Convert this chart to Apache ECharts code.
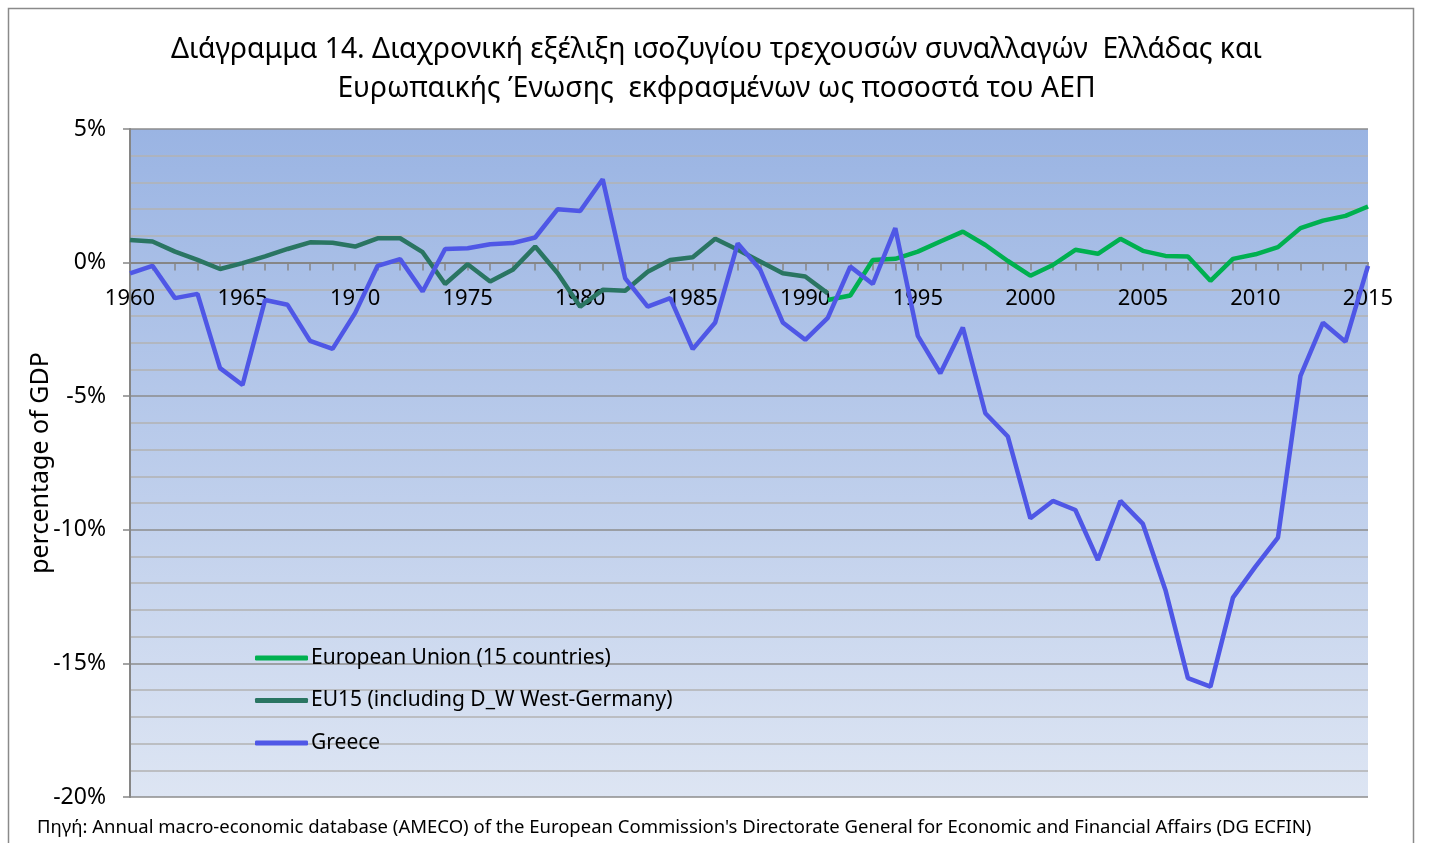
<!DOCTYPE html>
<html>
<head>
<meta charset="utf-8">
<script src="https://cdn.jsdelivr.net/npm/echarts@6/dist/echarts.min.js"></script>
<style>
html,body{margin:0;padding:0;background:#fff;}
#chart{width:1433px;height:843px;}
</style>
</head>
<body>
<div id="chart"></div>
<script>
var years = [];
for (var y = 1960; y <= 2015; y++) years.push(String(y));

// EU (15 countries), 1991-2015
var euStartYear = 1991;
var euValues = [-1.40, -1.23, 0.10, 0.14, 0.41, 0.79, 1.16, 0.66, 0.06, -0.49,
  -0.09, 0.48, 0.33, 0.89, 0.44, 0.25, 0.23, -0.68, 0.14, 0.31,
  0.58, 1.29, 1.57, 1.75, 2.10];

// EU15 incl. West Germany, 1960-1991
var eu15wStartYear = 1960;
var eu15wValues = [0.85, 0.79, 0.41, 0.10, -0.24, -0.02, 0.23, 0.51, 0.76, 0.74,
  0.60, 0.91, 0.91, 0.39, -0.80, -0.06, -0.71, -0.27, 0.60, -0.40,
  -1.65, -1.02, -1.05, -0.34, 0.10, 0.20, 0.89, 0.48, 0.04, -0.40,
  -0.52, -1.15];

// Greece, 1960-2015
var greeceValues = [-0.40, -0.12, -1.33, -1.17, -3.95, -4.58, -1.40, -1.58, -2.93, -3.23,
  -1.89, -0.12, 0.13, -1.08, 0.51, 0.54, 0.69, 0.73, 0.94, 2.00,
  1.93, 3.12, -0.59, -1.65, -1.33, -3.24, -2.24, 0.72, -0.27, -2.24,
  -2.89, -2.07, -0.15, -0.80, 1.29, -2.74, -4.14, -2.43, -5.64, -6.51,
  -9.57, -8.92, -9.26, -11.13, -8.92, -9.78, -12.25, -15.55, -15.87, -12.54,
  -11.38, -10.29, -4.24, -2.25, -2.96, -0.12];

var yMin = -20, yMax = 5, yStep = 5;

var seriesNames = ['European Union (15 countries)', 'EU15 (including D_W West-Germany)', 'Greece'];
var titleText = 'Διάγραμμα 14. Διαχρονική εξέλιξη ισοζυγίου τρεχουσών συναλλαγών  Ελλάδας και\nΕυρωπαικής Ένωσης  εκφρασμένων ως ποσοστά του ΑΕΠ';
var yAxisName = 'percentage of GDP';
var sourceText = 'Πηγή: Annual macro-economic database (AMECO) of the European Commission\'s Directorate General for Economic and Financial Affairs (DG ECFIN)';

function toPairs(startYear, vals) {
  return vals.map(function (v, i) { return [String(startYear + i), v]; });
}

var FONT = 'Noto Sans';
var gridTop = 129, gridBottom = 46, chartH = 843;
var plotH = chartH - gridTop - gridBottom;
// move the category axis up so it sits on the zero line
var zeroOffset = -plotH * (0 - yMin) / (yMax - yMin);

var chart = echarts.init(document.getElementById('chart'));
chart.setOption({
  backgroundColor: '#ffffff',
  animation: false,
  textStyle: { fontFamily: FONT },
  title: {
    text: titleText,
    left: 'center',
    top: 25,
    textStyle: { fontFamily: FONT, fontSize: 28.3, fontWeight: 'normal', color: '#000', lineHeight: 39 }
  },
  graphic: [
    { type: 'rect', z: -10, shape: { x: 8.5, y: 8.5, width: 1405, height: 850 },
      style: { fill: 'none', stroke: '#8a8a8a', lineWidth: 1.5 } },
    { type: 'text', left: 37, top: 818,
      style: { text: sourceText, fontFamily: FONT, fontSize: 18.5, fill: '#000' } }
  ],
  legend: {
    orient: 'vertical',
    left: 250,
    top: 641,
    icon: 'roundRect',
    itemWidth: 53,
    itemHeight: 5,
    itemGap: 18.5,
    data: seriesNames,
    textStyle: { fontFamily: FONT, fontSize: 21, lineHeight: 24, color: '#000', padding: [0, 0, 0, -2] }
  },
  grid: {
    left: 130, right: 65, top: gridTop, bottom: gridBottom,
    show: true,
    borderWidth: 0,
    backgroundColor: { type: 'linear', x: 0, y: 0, x2: 0, y2: 1,
      colorStops: [{ offset: 0, color: '#9ab4e3' }, { offset: 1, color: '#dde5f3' }] }
  },
  xAxis: {
    type: 'category',
    data: years,
    boundaryGap: false,
    position: 'bottom',
    offset: zeroOffset,
    axisLine: { onZero: false, lineStyle: { color: '#868686', width: 2 } },
    axisTick: { show: true, interval: 0, length: 8, lineStyle: { color: '#868686', width: 1.5 } },
    axisLabel: { interval: 4, margin: 25, fontFamily: FONT, fontSize: 22, color: '#000' },
    splitLine: { show: false }
  },
  yAxis: {
    type: 'value',
    min: yMin, max: yMax, interval: yStep,
    name: yAxisName,
    nameLocation: 'middle',
    nameGap: 77,
    nameMoveOverlap: false,
    nameTextStyle: { fontFamily: FONT, fontSize: 25, color: '#000' },
    axisLine: { show: true, lineStyle: { color: '#868686', width: 2 } },
    axisTick: { show: true, length: 7, lineStyle: { color: '#868686', width: 1.5 } },
    axisLabel: { margin: 24, fontFamily: FONT, fontSize: 23, color: '#000',
      formatter: function (v) { return v + '%'; } },
    splitLine: { show: true, lineStyle: { color: '#8c8c8c', width: 1.5 } },
    minorTick: { show: false, splitNumber: 5 },
    minorSplitLine: { show: true, lineStyle: { color: '#b3b3b3', width: 1.5 } }
  },
  series: [
    { name: seriesNames[0], type: 'line', symbol: 'none', data: toPairs(euStartYear, euValues),
      lineStyle: { color: '#00b050', width: 4.5 }, itemStyle: { color: '#00b050' }, z: 3 },
    { name: seriesNames[1], type: 'line', symbol: 'none', data: toPairs(eu15wStartYear, eu15wValues),
      lineStyle: { color: '#2a7562', width: 4.5 }, itemStyle: { color: '#2a7562' }, z: 4 },
    { name: seriesNames[2], type: 'line', symbol: 'none', data: greeceValues,
      lineStyle: { color: '#4f57e6', width: 4.5 }, itemStyle: { color: '#4f57e6' }, z: 5 }
  ]
});
</script>
</body>
</html>
